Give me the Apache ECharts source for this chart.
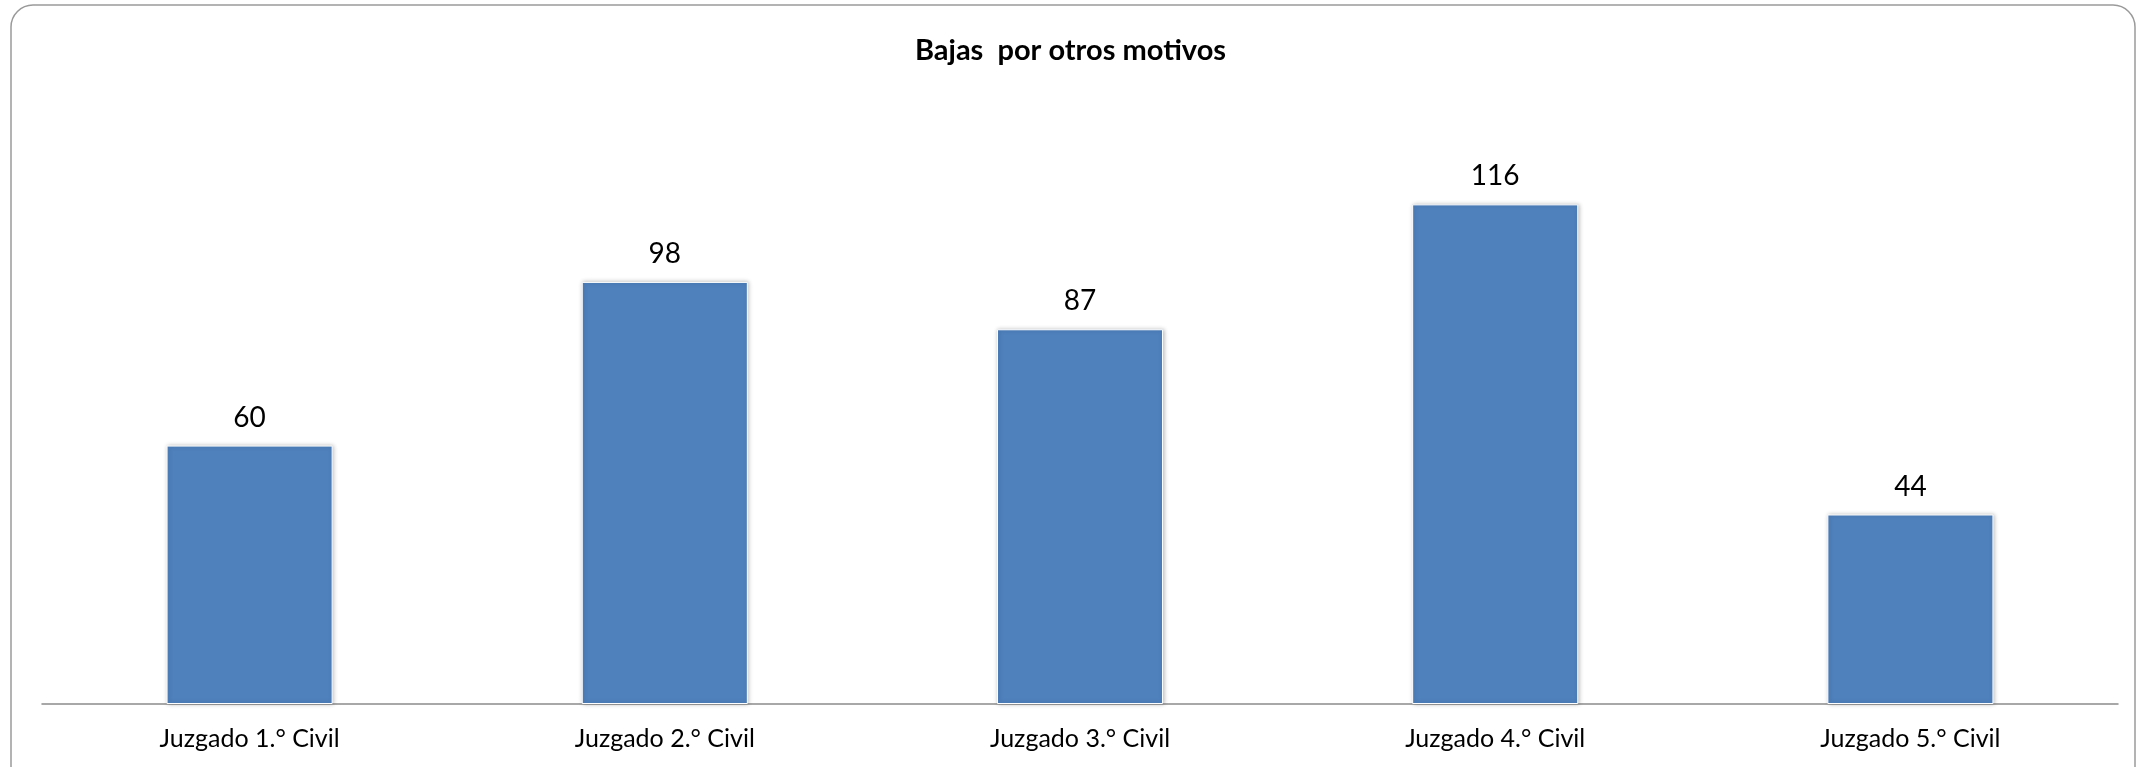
<!DOCTYPE html>
<html><head><meta charset="utf-8">
<script src="https://cdn.jsdelivr.net/npm/echarts@6/dist/echarts.min.js"></script>
<style>html,body{margin:0;padding:0;background:#fff}#c{width:2141px;height:767px}</style>
</head><body><div id="c"></div>
<script>
const title = 'Bajas  por otros motivos';
const categories = ['Juzgado 1.° Civil','Juzgado 2.° Civil','Juzgado 3.° Civil','Juzgado 4.° Civil','Juzgado 5.° Civil'];
const values = [60, 98, 87, 116, 44];

const chart = echarts.init(document.getElementById('c'), null, {renderer:'canvas'});
chart.setOption({
  animation:false,
  backgroundColor:'#fff',
  graphic:[{type:'rect', shape:{x:11,y:5,width:2124,height:800,r:22}, style:{fill:'none',stroke:'#9a9a9a',lineWidth:1.5}, silent:true, z:-1}],
  title:{text:title,left:'center',top:31,textStyle:{fontFamily:'Lato',fontWeight:'bold',fontSize:29,color:'#000'}},
  grid:{left:42,right:23,top:101,bottom:63,containLabel:false},
  xAxis:{type:'category',data:categories,
    axisLine:{lineStyle:{color:'#8c8c8c',width:1.5}},axisTick:{show:false},
    axisLabel:{fontFamily:'Lato',fontSize:25,color:'#000',margin:22}},
  yAxis:{type:'value',min:0,max:140,show:false,splitLine:{show:false}},
  series:[{type:'bar',data:values,barCategoryGap:'60%',
    itemStyle:{color:'#4F81BD',borderColor:'#fff',borderWidth:1,shadowColor:'rgba(0,0,0,0.25)',shadowBlur:4,shadowOffsetX:1,shadowOffsetY:0},
    label:{show:true,position:'top',distance:14,fontFamily:'Lato',fontSize:28,color:'#000'}}]
});
</script></body></html>
